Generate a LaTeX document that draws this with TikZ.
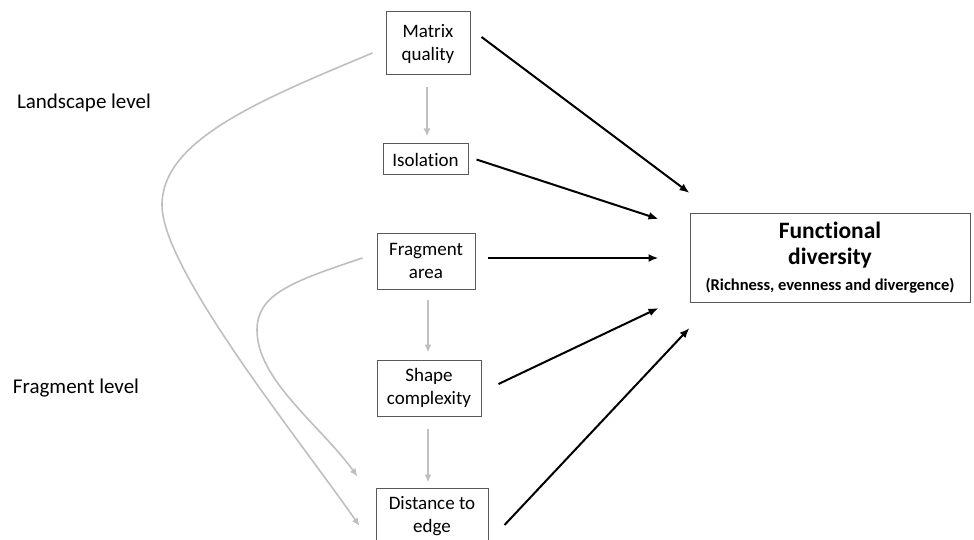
\documentclass[tikz,border=0pt]{standalone}
\usepackage{fontspec}
\setmainfont{Carlito}[Ligatures=NoCommon]
\usepackage{tikz}
\usetikzlibrary{arrows.meta}
\usetikzlibrary{calc}

\tikzset{
  box/.style={draw=black!65, line width=1pt, align=center, inner sep=0pt,
              font=\fontsize{19}{23}\selectfont},
  lvl/.style={font=\fontsize{21}{25}\selectfont},
  blk/.style={line width=2pt, -{Latex[length=10pt,width=8pt]}},
  gry/.style={draw=black!25, line width=1.6pt, -{Latex[length=8pt,width=7pt]}}
}

\begin{document}
\begin{tikzpicture}[x=1pt,y=-1pt]
            \useasboundingbox (0,0) rectangle (974,540);

            % Niveaux
            \node[lvl] (land) at (84,103) {Landscape level};
            \node[lvl] (frag) at (76,388) {Fragment level};

            % Variables
            \node[box, minimum width=84pt, minimum height=63pt] (mq) at (428,43.5) {Matrix\\quality};
            \node[box, minimum width=85pt, minimum height=31pt] (iso) at (425.5,159.5) {Isolation};
            \node[box, minimum width=98pt, minimum height=56pt] (fa) at (426,261) {Fragment\\area};
            \node[box, minimum width=104pt, minimum height=56pt] (sc) at (429,388) {Shape\\complexity};
            \node[box, minimum width=112pt, minimum height=56pt] (de) at (432,516) {Distance to\\edge};

            % Reponse
            \node[box, minimum width=280pt, minimum height=89pt] (fd) at (830,258)
              {\fontsize{23.5}{27}\selectfont\bfseries Functional\\[3pt]
               \fontsize{23.5}{27}\selectfont\bfseries diversity\\[3pt]
               \fontsize{16.5}{20}\selectfont\bfseries (Richness, evenness and divergence)};

            % Fleches directes
            \draw[blk] ([xshift=11pt,yshift=6.5pt]mq.east) -- ([yshift=20pt]fd.north west);
            \draw[blk] ([xshift=8pt]iso.east) -- ([xshift=-31pt,yshift=-6pt]fd.north west);
            \draw[blk] ([xshift=12pt,yshift=3pt]fa.east) -- ([xshift=-31pt]fd.west);
            \draw[blk] ([xshift=17pt,yshift=4pt]sc.east) -- ([xshift=-31pt,yshift=-5pt]fd.south west);
            \draw[blk] ([xshift=16pt,yshift=-9pt]de.east) -- ([yshift=-25pt]fd.south west);

            % Fleches grises
            \draw[gry, shorten <=12pt, shorten >=7pt] ([xshift=-1pt]mq.south) -- ([xshift=-1pt]mq.south |- iso.north);
            \draw[gry, shorten <=10pt, shorten >=7pt] ([xshift=2pt]fa.south) -- ([xshift=2pt]fa.south |- sc.north);
            \draw[gry, shorten <=12pt, shorten >=5pt] ([xshift=-1pt]sc.south) -- ([xshift=-1pt]sc.south |- de.north);

            % Courbes
            \draw[gry] ([xshift=-13pt,yshift=-9.5pt]mq.west)
              .. controls (260,100) and (162,140) .. (162,205)
              .. controls (162,270) and (300,440) .. ([xshift=-16pt,yshift=-10pt]de.west);
            \draw[gry] ([xshift=-14pt,yshift=3pt]fa.west)
              .. controls (290,282) and (257,295) .. (257,330)
              .. controls (257,380) and (320,425) .. ([xshift=-18pt,yshift=11pt]de.north west);
        \end{tikzpicture}
\end{document}
